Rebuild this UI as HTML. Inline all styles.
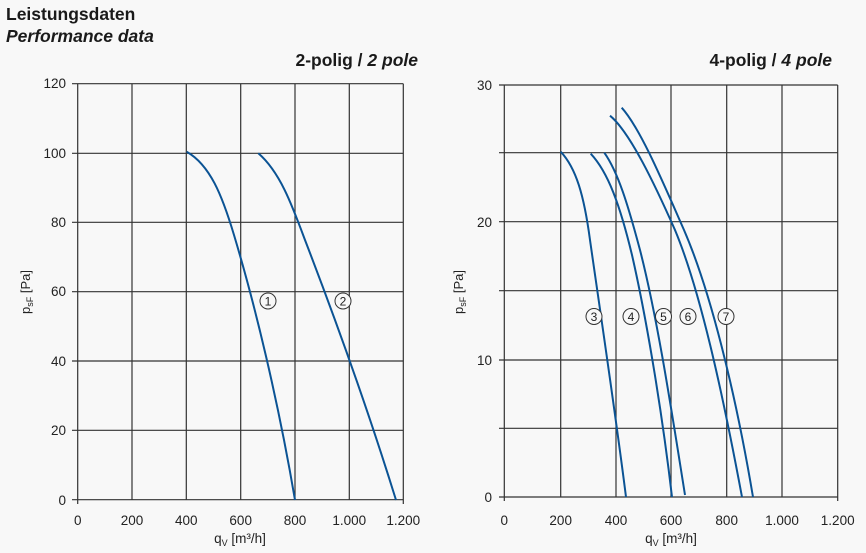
<!DOCTYPE html>
<html><head><meta charset="utf-8"><style>
html,body{margin:0;padding:0;background:#f8f8f8;}
svg{display:block;font-family:"Liberation Sans",Arial,sans-serif;}
</style></head><body>
<svg width="866" height="553" viewBox="0 0 866 553" xmlns="http://www.w3.org/2000/svg">
<rect width="866" height="553" fill="#f8f8f8"/>
<text x="6" y="20" font-size="17.5" font-weight="bold" fill="#1a1a1a">Leistungsdaten</text>
<text x="6" y="42" font-size="17.5" font-weight="bold" font-style="italic" fill="#1a1a1a">Performance data</text>
<text x="418" y="66" font-size="17.5" font-weight="bold" text-anchor="end" fill="#1a1a1a">2-polig / <tspan font-style="italic">2 pole</tspan></text>
<text x="832" y="66" font-size="17.5" font-weight="bold" text-anchor="end" fill="#1a1a1a">4-polig / <tspan font-style="italic">4 pole</tspan></text>

<g stroke="#333" stroke-width="1.2" fill="none">
<path d="M132,83.7V499.7M186.3,83.7V499.7M240.7,83.7V499.7M295,83.7V499.7M349.3,83.7V499.7"/>
<path d="M72,83.7H403.3M72,153.3H403.3M72,222.3H403.3M72,291.7H403.3M72,361H403.3M72,430.3H403.3M72,499.7H403.3"/>
<path d="M77.7,83.7V504M403.3,83.7V504"/>
</g>
<g font-size="13.5" fill="#222" text-anchor="end">
<text x="66" y="88">120</text><text x="66" y="158">100</text><text x="66" y="227">80</text><text x="66" y="296">60</text><text x="66" y="366">40</text><text x="66" y="435">20</text><text x="66" y="505">0</text>
</g>
<g font-size="13.5" fill="#222" text-anchor="middle">
<text x="77.7" y="525">0</text><text x="132" y="525">200</text><text x="186.3" y="525">400</text><text x="240.7" y="525">600</text><text x="295" y="525">800</text><text x="349.3" y="525">1.000</text><text x="403.3" y="525">1.200</text>
<text x="240" y="543">q<tspan font-size="9" dy="3">V</tspan><tspan dy="-3"> [m³/h]</tspan></text>
</g>
<text transform="translate(30,292) rotate(-90)" font-size="13" fill="#222" text-anchor="middle">p<tspan font-size="9" dy="3">sF</tspan><tspan dy="-3"> [Pa]</tspan></text>

<g stroke="#0b5394" stroke-width="2" fill="none">
<path d="M186.7,151.7 C210,165 222,195 234,235 C255,305 278,400 295,500"/>
<path d="M258.3,153.3 C280,172 292,205 305,240 C330,305 365,400 396,500"/>
</g>
<g font-size="12" fill="#222" text-anchor="middle">
<circle cx="268" cy="301" r="8" fill="#f8f8f8" stroke="#333"/><text x="268" y="305.5">1</text>
<circle cx="343" cy="301" r="8" fill="#f8f8f8" stroke="#333"/><text x="343" y="305.5">2</text>
</g>

<g stroke="#333" stroke-width="1.2" fill="none">
<path d="M560.7,85V497M616,85V497M671,85V497M726.7,85V497M782,85V497"/>
<path d="M499,85H837.7M499,152.7H837.7M499,221.7H837.7M499,290.7H837.7M499,360H837.7M499,428.3H837.7M499,497H837.7"/>
<path d="M504.3,85V501M837.7,85V501"/>
</g>
<g font-size="13.5" fill="#222" text-anchor="end">
<text x="492" y="90">30</text><text x="492" y="227">20</text><text x="492" y="365">10</text><text x="492" y="502">0</text>
</g>
<g font-size="13.5" fill="#222" text-anchor="middle">
<text x="504.3" y="525">0</text><text x="560.7" y="525">200</text><text x="616" y="525">400</text><text x="671" y="525">600</text><text x="726.7" y="525">800</text><text x="782" y="525">1.000</text><text x="837.7" y="525">1.200</text>
<text x="671" y="543">q<tspan font-size="9" dy="3">V</tspan><tspan dy="-3"> [m³/h]</tspan></text>
</g>
<text transform="translate(463,292) rotate(-90)" font-size="13" fill="#222" text-anchor="middle">p<tspan font-size="9" dy="3">sF</tspan><tspan dy="-3"> [Pa]</tspan></text>

<g stroke="#0b5394" stroke-width="2" fill="none">
<path d="M560.7,151.7 C576,168 584,195 590,240 C600,310 615,410 626,497"/>
<path d="M590.7,153.7 C608,172 620,205 632,255 C648,325 663,420 672,497"/>
<path d="M604.3,152.7 C618,172 628,205 640,250 C658,320 673,420 685,495"/>
<path d="M610,115.7 C630,132 655,185 675,230 C700,290 722,390 742,497"/>
<path d="M621.7,107.7 C640,128 662,180 684,230 C710,290 735,390 753,497"/>
</g>
<g font-size="12" fill="#222" text-anchor="middle">
<circle cx="594" cy="316.5" r="8" fill="#f8f8f8" stroke="#333"/><text x="594" y="321">3</text>
<circle cx="631" cy="316.5" r="8" fill="#f8f8f8" stroke="#333"/><text x="631" y="321">4</text>
<circle cx="663.5" cy="316.5" r="8" fill="#f8f8f8" stroke="#333"/><text x="663.5" y="321">5</text>
<circle cx="688" cy="316.5" r="8" fill="#f8f8f8" stroke="#333"/><text x="688" y="321">6</text>
<circle cx="726" cy="316.5" r="8" fill="#f8f8f8" stroke="#333"/><text x="726" y="321">7</text>
</g>
</svg>
</body></html>
